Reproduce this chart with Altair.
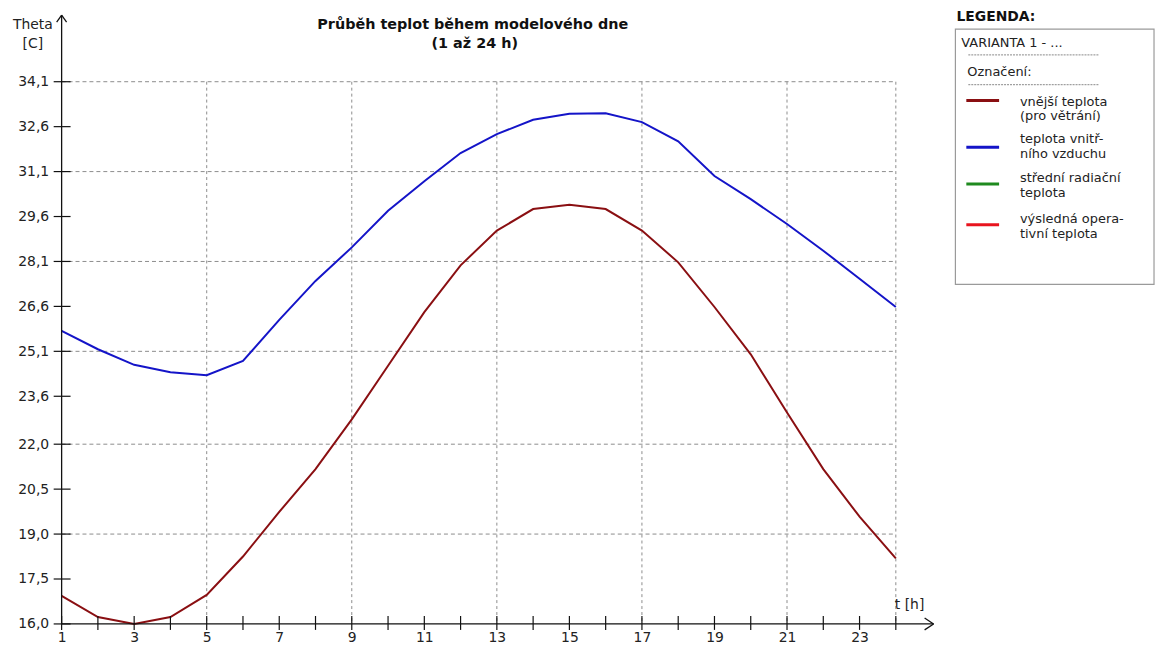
import altair as alt
import pandas as pd

# ---------------- data ----------------
hours = list(range(1, 25))
outdoor = [16.94, 16.23, 16.00, 16.23, 16.97, 18.25, 19.74, 21.17, 22.83, 24.62,
           26.41, 27.97, 29.13, 29.85, 29.99, 29.85, 29.13, 28.07, 26.58, 25.00,
           23.06, 21.17, 19.58, 18.19]
indoor = [25.78, 25.17, 24.65, 24.40, 24.30, 24.78, 26.15, 27.45, 28.57, 29.79,
          30.78, 31.72, 32.35, 32.83, 33.03, 33.05, 32.75, 32.11, 30.95, 30.18,
          29.35, 28.46, 27.52, 26.58]

series_names = ["vnější teplota (pro větrání)", "teplota vnitřního vzduchu",
                "střední radiační teplota", "výsledná operativní teplota"]
series_colors = ["#8a0f12", "#1414c8", "#1f8a1f", "#e8141e"]

legend_line1 = ["vnější teplota", "teplota vnitř-", "střední radiační", "výsledná opera-"]
legend_line2 = ["(pro větrání)", "ního vzduchu", "teplota", "tivní teplota"]

ytick_values = [16.0, 17.5, 19.0, 20.5, 22.0, 23.6, 25.1, 26.6, 28.1, 29.6, 31.1, 32.6, 34.1]
ygrid_values = [19.0, 22.0, 25.1, 28.1, 31.1, 34.1]
xlabel_values = [1, 3, 5, 7, 9, 11, 13, 15, 17, 19, 21, 23]
xgrid_values = [5, 9, 13, 17, 21, 24]

title_lines = ["Průběh teplot během modelového dne", "(1 až 24 h)"]

# ---------------- layout ----------------
W, H = 840, 546
FONT = "DejaVu Sans"
XS = alt.Scale(domain=[1, 24], nice=False, zero=False)
YS = alt.Scale(domain=[16.0, 34.1], nice=False, zero=False)

one = pd.DataFrame({"k": [0]})

df = pd.DataFrame({
    "hour": hours * 2,
    "temp": outdoor + indoor,
    "series": [series_names[0]] * len(hours) + [series_names[1]] * len(hours),
})

# grid
gy = alt.Chart(pd.DataFrame({"v": ygrid_values})).mark_rule(
    color="#8c8c8c", strokeDash=[4, 3], strokeWidth=1
).encode(y=alt.Y("v:Q", scale=YS, axis=None), x=alt.value(0), x2=alt.value(W))

gx = alt.Chart(pd.DataFrame({"v": xgrid_values})).mark_rule(
    color="#8c8c8c", strokeDash=[3, 3], strokeWidth=1
).encode(x=alt.X("v:Q", scale=XS, axis=None), y=alt.value(0), y2=alt.value(H))

# data lines with axes (labels only)
lines = alt.Chart(df).mark_line(strokeWidth=2).encode(
    x=alt.X("hour:Q", scale=XS, axis=alt.Axis(
        values=xlabel_values, domain=False, ticks=False, tickSize=0, grid=False,
        labelPadding=7, labelFontSize=14, labelFont=FONT, labelColor="#222222",
        labelFlush=False, labelOverlap=False, title=None, format="d")),
    y=alt.Y("temp:Q", scale=YS, axis=alt.Axis(
        values=ytick_values, domain=False, ticks=False, tickSize=0, grid=False,
        labelPadding=13, labelFontSize=14, labelFont=FONT, labelColor="#222222",
        labelFlush=False, labelOverlap=False, title=None,
        labelExpr="replace(format(datum.value, '.1f'), '.', ',')")),
    color=alt.Color("series:N", scale=alt.Scale(domain=series_names[:2], range=series_colors[:2]),
                    legend=None),
    detail="series:N",
)

# axis lines, crossing ticks and arrowheads
axis_col = "#111111"
xticks = alt.Chart(pd.DataFrame({"h": hours})).mark_rule(color=axis_col, strokeWidth=1.2).encode(
    x=alt.X("h:Q", scale=XS, axis=None), y=alt.value(H - 8), y2=alt.value(H + 6))
yticks = alt.Chart(pd.DataFrame({"v": ytick_values})).mark_rule(color=axis_col, strokeWidth=1.2).encode(
    y=alt.Y("v:Q", scale=YS, axis=None), x=alt.value(-8), x2=alt.value(9))

def seg(x1, y1, x2, y2, w=1.3):
    return alt.Chart(one).mark_rule(color=axis_col, strokeWidth=w).encode(
        x=alt.value(x1), y=alt.value(y1), x2=alt.value(x2), y2=alt.value(y2))

xaxis = seg(0, H, 878, H)
yaxis = seg(0, H, 0, -67)
arrows = [seg(869, H - 6, 878, H), seg(869, H + 6, 878, H),
          seg(-5, -60, 0, -67), seg(5, -60, 0, -67)]

def txt(s, x, y, size=13, weight="normal", align="left", color="#222222", font=FONT):
    return alt.Chart(one).mark_text(
        text=s, align=align, baseline="middle", font=font, fontSize=size,
        fontWeight=weight, color=color
    ).encode(x=alt.value(x), y=alt.value(y))

texts = [
    txt(title_lines[0], 414, -57, size=14.5, weight="bold", align="center", color="#111111"),
    txt(title_lines[1], 416, -38, size=14.5, weight="bold", align="center", color="#111111"),
    txt("Theta", -29, -57, size=14, align="center"),
    txt("[C]", -29, -38, size=14, align="center"),
    txt("t [h]", 839, 527, size=14, align="left"),
]

# ---------------- custom legend panel ----------------
legend_box = alt.Chart(one).mark_rect(fill="white", stroke="#9a9a9a", strokeWidth=1.2).encode(
    x=alt.value(900), x2=alt.value(1100), y=alt.value(-53), y2=alt.value(204))
legend_head = txt("LEGENDA:", 901, -65, size=14, weight="bold", color="#111111")
legend_var = txt("VARIANTA 1 - ...", 906, -39, size=13)
legend_ozn = txt("Označení:", 912, -10, size=13)
dots = [alt.Chart(one).mark_rule(color="#888888", strokeDash=[2, 1], strokeWidth=1).encode(
    x=alt.value(913), x2=alt.value(1045), y=alt.value(yy)) for yy in (-27, 3)]

leg_line_y = [19, 66, 103, 144]
leg_text_y = [20, 58, 97, 138]
leg = pd.DataFrame({
    "name": series_names, "color": series_colors,
    "l1": legend_line1, "l2": legend_line2,
    "ly": leg_line_y, "t1": leg_text_y, "t2": [v + 15 for v in leg_text_y],
})
leg_lines = alt.Chart(leg).mark_rule(strokeWidth=3).encode(
    x=alt.value(911), x2=alt.value(944),
    y=alt.Y("ly:Q", scale=None, axis=None),
    color=alt.Color("color:N", scale=None, legend=None))
leg_t1 = alt.Chart(leg).mark_text(align="left", baseline="middle", font=FONT, fontSize=13,
                                  color="#222222").encode(
    x=alt.value(965), y=alt.Y("t1:Q", scale=None, axis=None), text="l1:N")
leg_t2 = alt.Chart(leg).mark_text(align="left", baseline="middle", font=FONT, fontSize=13,
                                  color="#222222").encode(
    x=alt.value(965), y=alt.Y("t2:Q", scale=None, axis=None), text="l2:N")

chart = alt.layer(
    gy, gx, lines, xaxis, yaxis, *arrows, xticks, yticks, *texts,
    legend_box, legend_head, legend_var, legend_ozn, *dots, leg_lines, leg_t1, leg_t2,
).resolve_axis(
    x="independent", y="independent"
).properties(
    width=W, height=H,
    autosize=alt.AutoSizeParams(type="none"),
    padding={"left": 54, "top": 72, "right": 263, "bottom": 22},
    background="white",
).configure_view(stroke=None)

chart.save("out.html", embed_options={"renderer": "svg", "actions": False})
